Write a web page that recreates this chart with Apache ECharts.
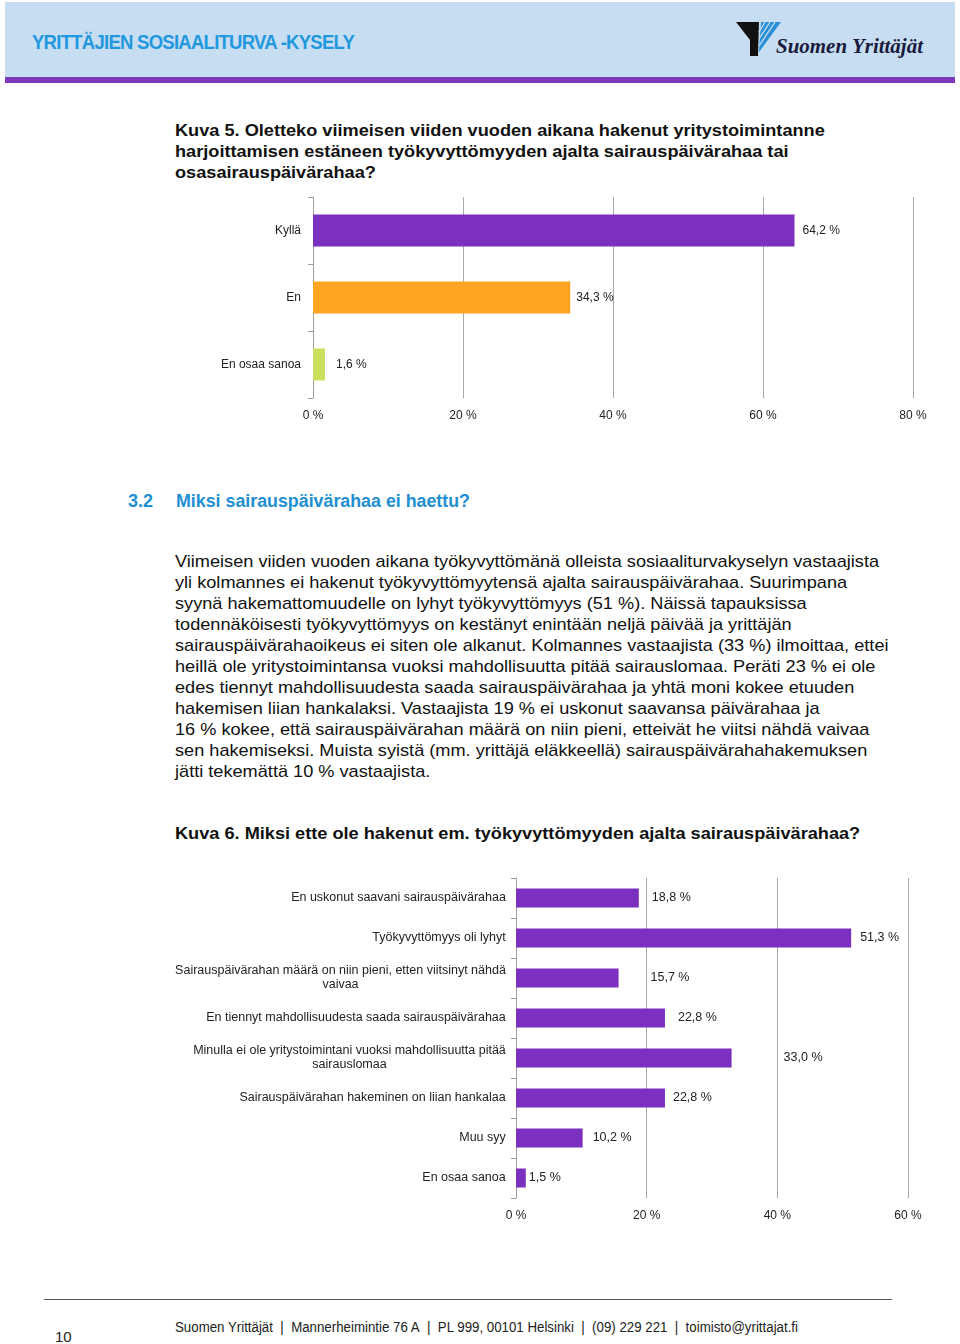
<!DOCTYPE html>
<html>
<head>
<meta charset="utf-8">
<script src="https://cdn.jsdelivr.net/npm/echarts@6/dist/echarts.min.js"></script>
<style>
  html,body{margin:0;padding:0;background:#fff;}
  body{width:960px;height:1344px;position:relative;overflow:hidden;font-family:"Liberation Sans",Arial,sans-serif;color:#111;}
  .abs{position:absolute;white-space:nowrap;}
  .fit{transform-origin:0 50%;display:inline-block;}
  .wide{transform-origin:0 0;transform:scaleX(1.068);}
</style>
</head>
<body>
<script>
// ---------- DATA ----------
const cats1 = ['Kyllä', 'En', 'En osaa sanoa'];
const vals1 = [64.2, 34.3, 1.6];
const xTicks1 = [0, 20, 40, 60, 80];

const cats2 = [
  'En uskonut saavani sairauspäivärahaa',
  'Työkyvyttömyys oli lyhyt',
  'Sairauspäivärahan määrä on niin pieni, etten viitsinyt nähdä\nvaivaa',
  'En tiennyt mahdollisuudesta saada sairauspäivärahaa',
  'Minulla ei ole yritystoimintani vuoksi mahdollisuutta pitää\nsairauslomaa',
  'Sairauspäivärahan hakeminen on liian hankalaa',
  'Muu syy',
  'En osaa sanoa'
];
const vals2 = [18.8, 51.3, 15.7, 22.8, 33.0, 22.8, 10.2, 1.5];
const xTicks2 = [0, 20, 40, 60];
</script>

<!-- header -->
<div class="abs" style="left:5px;top:2px;width:950px;height:75px;background:#c6ddf2;"></div>
<div class="abs" style="left:5px;top:77px;width:950px;height:6px;background:#7c38b9;"></div>
<div class="abs" style="left:32px;top:31px;height:22px;line-height:22px;">
  <span class="fit" data-w="322" style="font-weight:bold;font-size:20px;color:#1f98de;letter-spacing:-0.8px;">YRITTÄJIEN SOSIAALITURVA -KYSELY</span>
</div>
<svg class="abs" style="left:735px;top:20px;" width="50" height="38" viewBox="0 0 50 38">
  <polygon points="1,2 24,2 23,36 15,36 15,20" fill="#111"/>
  <polygon points="26,2 46,2 24,32" fill="#2a8fd6"/>
  <line x1="30" y1="2" x2="24" y2="12" stroke="#c6ddf2" stroke-width="1.3"/>
  <line x1="35" y1="2" x2="24" y2="19" stroke="#c6ddf2" stroke-width="1.3"/>
  <line x1="40" y1="2" x2="24" y2="26" stroke="#c6ddf2" stroke-width="1.3"/>
</svg>
<div class="abs" style="left:776px;top:33px;height:26px;line-height:26px;">
  <span class="fit" data-w="147" style="font-family:'Liberation Serif','DejaVu Serif',serif;font-style:italic;font-weight:bold;font-size:21px;color:#1a1a3c;">Suomen Yrittäjät</span>
</div>

<!-- Kuva 5 title -->
<div class="abs wide" style="left:175px;top:120px;font-weight:bold;font-size:17px;line-height:21px;color:#111;">Kuva 5. Oletteko viimeisen viiden vuoden aikana hakenut yritystoimintanne<br>harjoittamisen estäneen työkyvyttömyyden ajalta sairauspäivärahaa tai<br>osasairauspäivärahaa?</div>

<div id="c1" class="abs" style="left:150px;top:185px;width:800px;height:250px;"></div>

<!-- section heading -->
<div class="abs" style="left:128px;top:490px;font-weight:bold;font-size:18px;line-height:22px;color:#1e8fd2;">3.2</div>
<div class="abs" style="left:176px;top:490px;height:22px;line-height:22px;">
  <span class="fit" data-w="294" style="font-weight:bold;font-size:18px;color:#1e8fd2;">Miksi sairauspäivärahaa ei haettu?</span>
</div>

<div class="abs wide" style="left:175px;top:551px;font-size:17px;line-height:21px;color:#111;">Viimeisen viiden vuoden aikana työkyvyttömänä olleista sosiaaliturvakyselyn vastaajista<br>yli kolmannes ei hakenut työkyvyttömyytensä ajalta sairauspäivärahaa. Suurimpana<br>syynä hakemattomuudelle on lyhyt työkyvyttömyys (51 %). Näissä tapauksissa<br>todennäköisesti työkyvyttömyys on kestänyt enintään neljä päivää ja yrittäjän<br>sairauspäivärahaoikeus ei siten ole alkanut. Kolmannes vastaajista (33 %) ilmoittaa, ettei<br>heillä ole yritystoimintansa vuoksi mahdollisuutta pitää sairauslomaa. Peräti 23 % ei ole<br>edes tiennyt mahdollisuudesta saada sairauspäivärahaa ja yhtä moni kokee etuuden<br>hakemisen liian hankalaksi. Vastaajista 19 % ei uskonut saavansa päivärahaa ja<br>16 % kokee, että sairauspäivärahan määrä on niin pieni, etteivät he viitsi nähdä vaivaa<br>sen hakemiseksi. Muista syistä (mm. yrittäjä eläkkeellä) sairauspäivärahahakemuksen<br>jätti tekemättä 10 % vastaajista.</div>

<div class="abs wide" style="left:175px;top:823px;font-weight:bold;font-size:17px;line-height:21px;color:#111;">Kuva 6. Miksi ette ole hakenut em. työkyvyttömyyden ajalta sairauspäivärahaa?</div>

<div id="c2" class="abs" style="left:150px;top:865px;width:800px;height:370px;"></div>

<!-- footer -->
<div class="abs" style="left:44px;top:1299px;width:848px;height:1px;background:#555;"></div>
<div class="abs" style="left:175px;top:1318px;height:18px;line-height:18px;">
  <span class="fit" data-w="623" style="font-size:14px;color:#222;">Suomen Yrittäjät&nbsp; |&nbsp; Mannerheimintie 76 A&nbsp; |&nbsp; PL 999, 00101 Helsinki&nbsp; |&nbsp; (09) 229 221&nbsp; |&nbsp; toimisto@yrittajat.fi</span>
</div>
<div class="abs" style="left:55px;top:1328px;font-size:15px;line-height:18px;color:#222;">10</div>

<script>
// fit selected text spans to measured reference widths
document.querySelectorAll('.fit').forEach(el => {
  const w = +el.dataset.w;
  const a = el.getBoundingClientRect().width;
  if (a > 0) el.style.transform = 'scaleX(' + (w / a) + ')';
});

const FONT = '"Liberation Sans", Arial, sans-serif';
const pct = v => v.toFixed(1).replace('.', ',') + ' %';

// style: per-bar colors and label gaps
const colors1 = ['#7b30bf', '#ffa522', '#c9e15d'];
const gaps1 = [8, 6, 11];
const gaps2 = [13, 9, 32, 13, 52, 8, 10, 3];
const purple = '#7b30bf';

function makeOption(cats, vals, ticks, grid, barW, colors, gaps, labelMargin, fs, rich, fmt) {
  return {
    animation: false,
    grid: Object.assign({containLabel: false, outerBoundsMode: 'none'}, grid),
    xAxis: {
      type: 'value',
      min: ticks[0], max: ticks[ticks.length - 1], interval: ticks[1] - ticks[0],
      axisLine: {show: false}, axisTick: {show: false},
      splitLine: {show: true, lineStyle: {color: '#a8a8a8', width: 1}},
      axisLabel: {formatter: v => v + ' %', fontFamily: FONT, fontSize: 12, color: '#222', margin: 12}
    },
    yAxis: {
      type: 'category', data: cats, inverse: true,
      axisLine: {show: true, lineStyle: {color: '#a0a0a0', width: 1}},
      axisTick: {show: true, length: 5, lineStyle: {color: '#a0a0a0'}},
      axisLabel: Object.assign({fontFamily: FONT, fontSize: fs, color: '#222', margin: labelMargin, lineHeight: 14},
        rich ? {rich: rich, formatter: fmt} : {})
    },
    series: [{
      type: 'bar', barWidth: barW,
      data: vals.map((v, i) => ({
        value: v,
        itemStyle: {color: colors[i]},
        label: {distance: gaps[i]}
      })),
      label: {show: true, position: 'right', formatter: p => pct(p.value), fontFamily: FONT, fontSize: fs, color: '#222'}
    }]
  };
}

const c1 = echarts.init(document.getElementById('c1'), null, {renderer: 'canvas'});
c1.setOption(makeOption(cats1, vals1, xTicks1, {left: 163, top: 12, width: 600, height: 201}, 32, colors1, gaps1, 12, 12));

// multi-line labels: second line centered under the first
const FS2 = 12.5;
const mctx = document.createElement('canvas').getContext('2d');
mctx.font = FS2 + 'px ' + FONT;
const rich2 = {};
cats2.forEach((c, i) => {
  const lines = c.split('\n');
  const w = Math.ceil(Math.max(...lines.map(l => mctx.measureText(l).width)));
  rich2['r' + i] = {width: w, align: 'center', fontFamily: FONT, fontSize: FS2, color: '#222', lineHeight: 14};
});
const fmt2 = (v, i) => v.split('\n').map(l => '{r' + i + '|' + l + '}').join('\n');

const c2 = echarts.init(document.getElementById('c2'), null, {renderer: 'canvas'});
c2.setOption(makeOption(cats2, vals2, xTicks2, {left: 366, top: 13, width: 392, height: 320}, 19,
  vals2.map(() => purple), gaps2, 10, FS2, rich2, fmt2));
</script>
</body>
</html>
